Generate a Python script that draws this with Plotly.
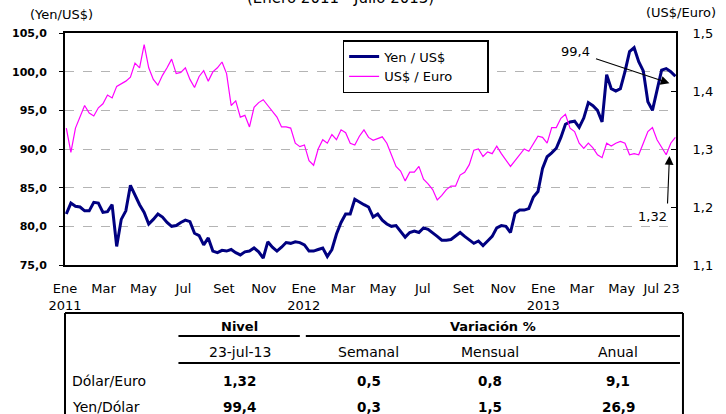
import plotly.graph_objects as go
import pandas as pd

# ---------------- data (weekly readings, Jan 2011 - Jul 2013) ----------------
yen_usd = [
    81.6, 83.0, 82.6, 82.5, 82.0, 82.0, 83.1, 83.0, 81.8, 81.9,
    82.8, 77.4, 80.9, 82.0, 85.3, 84.0, 82.8, 81.8, 80.3, 80.9,
    81.6, 81.2, 80.5, 80.0, 80.1, 80.5, 80.8, 80.6, 79.1, 78.8,
    77.6, 78.5, 76.8, 76.6, 76.9, 76.8, 77.0, 76.6, 76.3, 76.7,
    76.8, 77.2, 76.7, 75.9, 78.0, 77.3, 76.8, 77.3, 77.9, 77.8,
    78.0, 77.9, 77.6, 76.8, 76.8, 77.0, 77.2, 76.1, 77.0, 79.0,
    80.5, 81.6, 81.6, 83.5, 83.1, 82.8, 82.5, 81.2, 81.6, 80.8,
    80.3, 80.0, 80.1, 79.4, 78.6, 79.2, 79.4, 79.2, 79.8, 79.6,
    79.2, 78.7, 78.2, 78.2, 78.3, 78.7, 79.2, 78.7, 78.3, 77.8,
    78.1, 77.5, 78.1, 78.7, 79.8, 80.1, 80.0, 79.2, 81.7, 82.1,
    82.1, 82.3, 83.8, 84.5, 87.5, 89.0, 89.5, 90.1, 91.5, 93.2,
    93.5, 93.6, 92.8, 94.0, 96.0, 95.6, 95.0, 93.5, 99.6, 97.8,
    97.5, 97.8, 100.0, 102.6, 103.1, 101.3, 100.1, 96.1, 95.0, 97.7,
    100.2, 100.4, 100.0, 99.4,
]
usd_eur = [
    1.336, 1.294, 1.336, 1.357, 1.375, 1.362, 1.357, 1.371, 1.378, 1.393,
    1.388, 1.408, 1.413, 1.417, 1.424, 1.448, 1.440, 1.480, 1.440, 1.420,
    1.410, 1.427, 1.440, 1.455, 1.430, 1.432, 1.440, 1.420, 1.406, 1.425,
    1.435, 1.417, 1.433, 1.440, 1.450, 1.430, 1.375, 1.383, 1.355, 1.358,
    1.338, 1.372, 1.380, 1.385, 1.375, 1.365, 1.355, 1.338, 1.338, 1.336,
    1.310, 1.304, 1.307, 1.280, 1.272, 1.300, 1.316, 1.310, 1.325, 1.316,
    1.333, 1.328, 1.310, 1.307, 1.322, 1.333, 1.320, 1.315, 1.318, 1.321,
    1.310, 1.290, 1.270, 1.262, 1.245, 1.260, 1.260, 1.270, 1.248, 1.240,
    1.230, 1.212, 1.220, 1.230, 1.236, 1.236, 1.255, 1.260, 1.273, 1.298,
    1.300, 1.287, 1.295, 1.292, 1.305, 1.292, 1.280, 1.270, 1.280, 1.290,
    1.300, 1.296, 1.310, 1.322, 1.320, 1.310, 1.337, 1.337, 1.353, 1.360,
    1.336, 1.330, 1.310, 1.301, 1.310, 1.302, 1.290, 1.285, 1.310, 1.305,
    1.310, 1.313, 1.310, 1.290, 1.292, 1.290, 1.310, 1.330, 1.337, 1.316,
    1.303, 1.290, 1.310, 1.320,
]
dates = pd.date_range("2011-01-03", periods=len(yen_usd), freq="7D")

tick_dates = ["2011-01-01", "2011-03-01", "2011-05-01", "2011-07-01", "2011-09-01",
              "2011-11-01", "2012-01-01", "2012-03-01", "2012-05-01", "2012-07-01",
              "2012-09-01", "2012-11-01", "2013-01-01", "2013-03-01", "2013-05-01",
              "2013-07-01"]
tick_labels = ["Ene<br>2011", "Mar", "May", "Jul", "Set", "Nov", "Ene<br>2012", "Mar",
               "May", "Jul", "Set", "Nov", "Ene<br>2013", "Mar", "May", "Jul 23"]

# table
table_rows = ["Dólar/Euro", "Yen/Dólar"]
nivel = [1.32, 99.4]
semanal = [0.5, 0.3]
mensual = [0.8, 1.5]
anual = [9.1, 26.9]
nivel_date = "23-jul-13"
var_headers = ["Semanal", "Mensual", "Anual"]

last_yen = yen_usd[-1]
last_eur = usd_eur[-1]

FONT = "DejaVu Sans"
PAD = "\u00a0" * 7

# --------------- pixel helpers for layout (plot area 62..676 x 33..265) ---------------
PL, PR, PT, PB = 62, 676, 33, 265
def px(x):
    return (x - PL) / (PR - PL)
def py(y):
    return (PB - y) / (PB - PT)

fig = go.Figure()
fig.add_trace(go.Scatter(x=dates, y=yen_usd, name="Yen / US$" + PAD, mode="lines",
                         line=dict(color="#000080", width=3)))
fig.add_trace(go.Scatter(x=dates, y=usd_eur, name="US$ / Euro" + PAD, mode="lines",
                         line=dict(color="#FF00FF", width=1.2), yaxis="y2"))

fig.update_layout(
    width=726, height=414,
    margin=dict(l=PL, r=726 - PR, t=PT, b=414 - PB),
    paper_bgcolor="white", plot_bgcolor="white",
    separators=",.",
    font=dict(family=FONT, size=13, color="black"),
    showlegend=True,
    legend=dict(x=px(341), y=py(40), xanchor="left", yanchor="top",
                bgcolor="white", bordercolor="black", borderwidth=1.5,
                font=dict(family=FONT, size=13)),
    xaxis=dict(type="date", range=["2011-01-01", "2013-07-23"],
               tickvals=tick_dates, ticktext=tick_labels, ticks="",
               showline=True, linecolor="black", linewidth=2, mirror=True,
               showgrid=False, tickfont=dict(family=FONT, size=13),
               ticklabelstandoff=10),
    yaxis=dict(range=[75, 105], tickvals=[75, 80, 85, 90, 95, 100, 105],
               tickformat=".1f", ticks="outside", ticklen=4, tickcolor="black",
               showline=True, linecolor="black", linewidth=2,
               showgrid=True, gridcolor="#B4B4B4", griddash="dash", gridwidth=1,
               zeroline=False,
               tickfont=dict(family=FONT, size=11, weight="bold"),
               ticklabelstandoff=10),
    yaxis2=dict(range=[1.1, 1.5], tickvals=[1.1, 1.2, 1.3, 1.4, 1.5],
                tickformat=".1f", overlaying="y", side="right",
                ticks="inside", ticklen=5, tickcolor="black",
                showline=True, linecolor="black", linewidth=2,
                showgrid=False, zeroline=False,
                tickfont=dict(family=FONT, size=13),
                ticklabelstandoff=12),
)

ann = []
def text(t, x, y, font, xanchor="center"):
    ann.append(dict(text=t, x=px(x), y=py(y), xref="paper", yref="paper",
                    showarrow=False, xanchor=xanchor, yanchor="middle", font=font))

# titles
text("(Enero 2011 - Julio 2013)", 339, -2, dict(family=FONT, size=15))
text("(Yen/US$)", 25, 14, dict(family=FONT, size=13), xanchor="left")
text("(US$/Euro)", 681, 13, dict(family=FONT, size=13))
# value callouts
text(f"{last_yen:.1f}".replace(".", ","), 575, 52, dict(family=FONT, size=13))
ann.append(dict(text="", x="2013-07-13", y=98.5, xref="x", yref="y",
                showarrow=True, ax=-75, ay=-25, arrowhead=2, arrowsize=1.6,
                arrowwidth=1.1, arrowcolor="black"))
text(f"{last_eur:.2f}".replace(".", ","), 652, 216, dict(family=FONT, size=13))
ann.append(dict(text="", x="2013-07-13", y=1.288, xref="x", yref="y2",
                showarrow=True, ax=-2, ay=49, arrowhead=2, arrowsize=1.6,
                arrowwidth=1.1, arrowcolor="black"))

# table texts
def fmt(v, d=1):
    return f"{v:.{d}f}".replace(".", ",")

TB = dict(family=FONT, size=13, weight="bold")
TR = dict(family=FONT, size=14)
TV = dict(family=FONT, size=13.5, weight="bold")
text("Nivel", 237, 326, TB)
text("Variación %", 492, 326, TB)
text(nivel_date, 238, 352, TR)
col_x = [367, 489, 618]
for h, cx in zip(var_headers, col_x):
    text(h, cx, 352, TR)
row_y = [381, 407]
for i, name in enumerate(table_rows):
    text(name, 67, row_y[i], TR, xanchor="left")
    vals = [fmt(nivel[i], 2 if i == 0 else 1), fmt(semanal[i]), fmt(mensual[i]),
            fmt(anual[i])]
    for v, cx in zip(vals, [237] + col_x):
        text(v, cx, row_y[i], TV)
fig.update_layout(annotations=ann)

# table lines
shapes = []
def hline(x0, x1, y, w=2):
    shapes.append(dict(type="line", xref="paper", yref="paper", x0=px(x0), x1=px(x1),
                       y0=py(y), y1=py(y), line=dict(color="black", width=w)))
def vline(x, y0, y1, w=2):
    shapes.append(dict(type="line", xref="paper", yref="paper", x0=px(x), x1=px(x),
                       y0=py(y0), y1=py(y1), line=dict(color="black", width=w)))
hline(62, 683, 313)
vline(62, 313, 430)
vline(683, 313, 430)
hline(176, 298, 336)
hline(304, 680, 336)
hline(176, 680, 363)
fig.update_layout(shapes=shapes)

fig.write_html("out.html", config={"displayModeBar": False},
               post_script="document.body.style.margin='0';document.body.style.overflow='hidden';")
